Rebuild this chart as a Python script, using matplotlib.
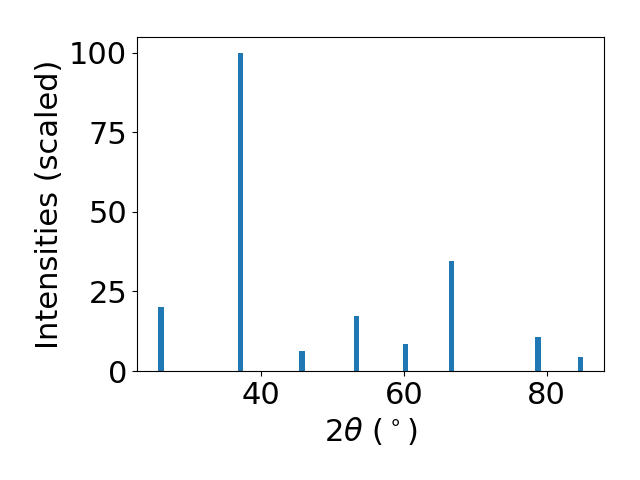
import matplotlib
matplotlib.use("Agg")
import matplotlib.pyplot as plt

two_theta = [25.9, 37.03, 45.7, 53.36, 60.23, 66.65, 78.8, 84.7]
intensity = [20.1, 100.0, 6.3, 17.2, 8.5, 34.6, 10.7, 4.4]

fig = plt.figure(figsize=(6.4, 4.8), dpi=100)
ax = fig.add_subplot(111)
ax.bar(two_theta, intensity, width=0.75, color="#1f77b4")
ax.set_xlabel(r"$2\theta$ ($^\circ$)", fontsize=22)
ax.set_ylabel("Intensities (scaled)", fontsize=22)
ax.tick_params(labelsize=22)
ax.set_yticks([0, 25, 50, 75, 100])
ax.set_xticks([40, 60, 80])
fig.subplots_adjust(left=0.214, right=0.944, bottom=0.227, top=0.923)
fig.savefig("out.png", dpi=100)
